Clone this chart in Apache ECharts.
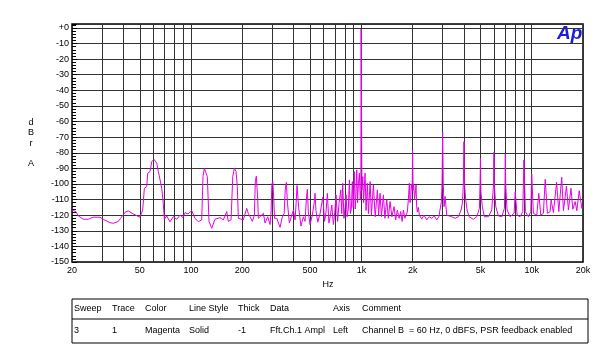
<!DOCTYPE html>
<html><head><meta charset="utf-8">
<script src="https://cdn.jsdelivr.net/npm/echarts@6/dist/echarts.min.js"></script>
<style>html,body{margin:0;padding:0;background:#fff}#c{width:607px;height:355px}</style>
</head><body><div id="c"></div>
<script>
// X axis (Hz, log) tick labels and grid positions
const xTickLabels = [20, 50, 100, 200, 500, 1000, 2000, 5000, 10000, 20000];
const xGridValues = [20,30,40,50,60,70,80,90,100,200,300,400,500,600,700,800,900,1000,2000,3000,4000,5000,6000,7000,8000,9000,10000,20000];
// Y axis (dBr A)
const yMin = -150, yMax = 2.5, yStep = 10;
// FFT trace: [frequency Hz, level dBr]
const trace = [
[20,-116.7],[21.1,-117.7],[21.8,-120.5],[23.3,-122.6],[24.9,-122.6],[26.7,-121.3],[29.2,-121.3],[30.5,-122.6],[33.4,-124.8],[35,-125.2],[37.4,-124],[38.6,-122],[41,-118.1],[42.8,-117.3],[45.8,-119.2],[50.1,-121.3],[52,-116.7],[53.2,-102.8],[54.9,-101.7],[55.7,-93.1],[57.4,-92.1],[58.8,-85.7],[60.6,-84.2],[62.9,-86.7],[64.3,-92.1],[65.7,-93.1],[67.3,-102.8],[68.7,-112.4],[69.7,-122.6],[72,-120.5],[75.2,-124.2],[78.7,-121],[82.4,-122.6],[86.2,-119.9],[89.5,-121.5],[92.2,-118.4],[96,-119.2],[100.9,-117.1],[105.5,-122],[110.3,-124.2],
[115.5,-123],[117.5,-95.3],[119.6,-90],[122.4,-90],[124.6,-95.3],[127.5,-124],[132.2,-128.4],[138.2,-122.6],[147.9,-121.6],[154.7,-123],[162,-117.7],[165.5,-124],[171.7,-123],[175.7,-95.3],[179.5,-90],[183.7,-92],[186.9,-101.7],[189.5,-122],[193.8,-122],[202.7,-123],[212.2,-115.6],[216.9,-119],[222,-121],[229,-124],[235.3,-120],[238.5,-98],[241.7,-95],[246.3,-110],[248.3,-122],[254.1,-123],[265.7,-118.8],[271.9,-125],[281.9,-121],[290.9,-126],
[295,-118],[298,-100],[302,-98.5],[306,-110],[309,-122],[318.5,-122],[333,-127.8],[343.5,-121],[352,-119],[357,-104],[362.6,-99],[368,-112],[377.6,-125],[398.8,-116.7],[408,-123],[414,-112],[419,-101],[423,-100.6],[428,-115],[442,-127],[456,-121],[467,-124],[475,-110],[481.7,-103.4],[488,-118],[499.4,-126],[515,-120],[527,-113],[534.5,-106],[541,-117],[554.5,-124.5],[572,-119],[586,-112],[593,-108.5],[600,-115],[608,-124],[620,-118],[631,-106],[645,-125],[658,-120],[670,-113.5],[685,-126],[698,-118],[710,-107],[725,-124],[740,-112],[757,-103.8],[767,-119],[777,-99.6],[790,-122],[802,-115],[813,-107],[825,-121],[838,-116],[850,-97.4],[862,-119],[873,-116],[885,-98.5],[895,-115],[909,-92.1],[920,-116],[930,-105],[939,-91],[950,-112],[960,-100],[973,-93.1],[985,-110],[993,-104],
[996,-0.8],[1004,-0.8],[1007,-104],[1019,-95.3],[1030,-112],[1040,-103],[1051,-93.1],[1065,-117],[1084,-99.6],[1100,-119],[1125,-98.5],[1145,-120],[1176,-100.6],[1205,-121],[1241,-103.8],[1262,-120],[1287,-106],[1312,-121],[1346,-107],[1375,-122],[1409,-110],[1440,-122],[1473,-111.3],[1510,-121],[1555,-114.5],[1590,-123],[1626,-116.7],[1665,-122],[1703,-117.7],[1735,-124],[1764,-116.7],[1800,-122],[1829,-121],[1860,-118],[1887,-110],[1912,-99.6],[1930,-112],[1949,-109],[1963,-100],[1976,-99.6],[1988,-104],
[1997,-78.5],[2003,-78.5],[2012,-104],[2025,-100],[2038,-99.6],[2052,-110],[2066,-109],[2080,-104],[2093,-100.6],[2110,-114],[2131,-118],[2160,-115],[2189,-120],[2262,-122.5],[2330,-120],[2421,-123],[2500,-121],[2590,-122],[2680,-120.5],[2771,-123],[2850,-121],[2897,-120],[2948,-111.3],[2975,-100],
[3000,-67],[3025,-100],[3058,-114.5],[3100,-108],[3171,-120],[3250,-121],[3394,-121],[3549,-122],[3710,-121],[3848,-116.7],[3916,-112.4],[3970,-100],
[4000,-72.9],[4030,-100],[4099,-110.3],[4172,-116.7],[4287,-121],[4543,-122.6],[4757,-121],[4928,-115.6],[4975,-100],
[5000,-83.5],[5030,-105],[5129,-114.5],[5270,-121],[5563,-121],[5825,-116.7],[5970,-100],
[6000,-79.7],[6030,-100],[6152,-114.5],[6372,-120.5],[6672,-121],[6912,-115.6],[6970,-100],
[7000,-80.8],[7030,-100],[7168,-116.7],[7465,-121],[7880,-118.8],[8000,-105],[8208,-119.9],[8547,-121],[8861,-117.7],
[9000,-84.6],[9180,-117.7],[9561,-121],[9875,-117.7],[10000,-93.8],[10228,-118.8],[10709,-119.9],[11000,-106],[11305,-119.9],[11709,-118.8],[12000,-97],[12360,-118.8],[12819,-117.7],[13000,-110.3],[13405,-118.3],[14000,-98.9],[14417,-117.7],[15000,-95.7],[15350,-117.1],[16000,-101.3],[16426,-116.7],[17000,-102.8],[17425,-116.2],[18000,-111.3],[18398,-117.1],[19000,-104.3],[19675,-115.6],[20000,-114]
];
// Table below the chart
const tableHeader = ['Sweep','Trace','Color','Line Style','Thick','Data','Axis','Comment'];
const tableRow = ['3','1','Magenta','Solid','-1','Fft.Ch.1 Ampl','Left','Channel B  = 60 Hz, 0 dBFS, PSR feedback enabled'];
const tableColX = [74, 112, 145, 189, 238, 270, 333, 362];
const yNameLetters = ['d','B','r','','A'];

const FONT = 'Liberation Sans, Arial, sans-serif';
const chart = echarts.init(document.getElementById('c'), null, {renderer: 'canvas'});

const graphics = [];
yNameLetters.forEach((ch, i) => {
  if (!ch) return;
  graphics.push({type:'text', x: 31, y: 122.7 + i*10.2,
    style:{text: ch, fill:'#000', font:'9px ' + FONT, textAlign:'center', textVerticalAlign:'middle'}});
});
graphics.push({type:'text', x: 328, y: 285, style:{text:'Hz', fill:'#000', font:'9px ' + FONT, textAlign:'center', textVerticalAlign:'middle'}});
graphics.push({type:'text', x: 557, y: 34, style:{text:'Ap', fill:'#1c1ce0', font:'italic bold 19px ' + FONT, textAlign:'left', textVerticalAlign:'middle'}});
const tL = 72, tR = 588, tT = 299, tM = 319, tB = 343;
graphics.push({type:'rect', shape:{x:tL, y:tT, width:tR-tL, height:tB-tT}, style:{fill:'none', stroke:'#000', lineWidth:1}});
graphics.push({type:'line', shape:{x1:tL, y1:tM, x2:tR, y2:tM}, style:{stroke:'#000', lineWidth:1}});
tableHeader.forEach((t, i) => graphics.push({type:'text', x: tableColX[i], y: (tT+tM)/2,
  style:{text:t, fill:'#000', font:'9px ' + FONT, textAlign:'left', textVerticalAlign:'middle'}}));
tableRow.forEach((t, i) => graphics.push({type:'text', x: tableColX[i], y: (tM+tB)/2,
  style:{text:t, fill:'#000', font:'9px ' + FONT, textAlign:'left', textVerticalAlign:'middle'}}));

chart.setOption({
  animation: false,
  backgroundColor: '#fff',
  grid: {left: 72, top: 24, right: 24, bottom: 93, show: true, borderColor: '#000', borderWidth: 1.5, containLabel: false},
  xAxis: {
    type: 'log', logBase: 10, min: 20, max: 20000,
    axisLine: {show: false},
    axisTick: {show: false, customValues: xGridValues},
    axisLabel: {customValues: xTickLabels, color:'#000', fontSize: 9, fontFamily: FONT, margin: 4,
      formatter: v => v >= 1000 ? (v/1000) + 'k' : String(v)},
    splitLine: {show: true, lineStyle: {color: '#333', width: 1}}
  },
  yAxis: {
    type: 'value', min: yMin, max: yMax, interval: yStep,
    axisLine: {show: false},
    axisTick: {show: true, inside: true, length: 5, lineStyle:{color:'#000'}},
    minorTick: {show: true, splitNumber: 5, length: 4, lineStyle:{color:'#000'}},
    axisLabel: {color:'#000', fontSize: 9, fontFamily: FONT, margin: 3,
      formatter: v => (Math.abs(v % 10) > 0.001) ? '' : (v === 0 ? '+0' : String(v))},
    splitLine: {show: true, lineStyle: {color: '#333', width: 1}}
  },
  series: [{
    type: 'line', data: trace, showSymbol: false, symbol: 'none',
    lineStyle: {color: '#e600e6', width: 1}, clip: true, z: 5
  }],
  graphic: graphics
});
</script></body></html>
